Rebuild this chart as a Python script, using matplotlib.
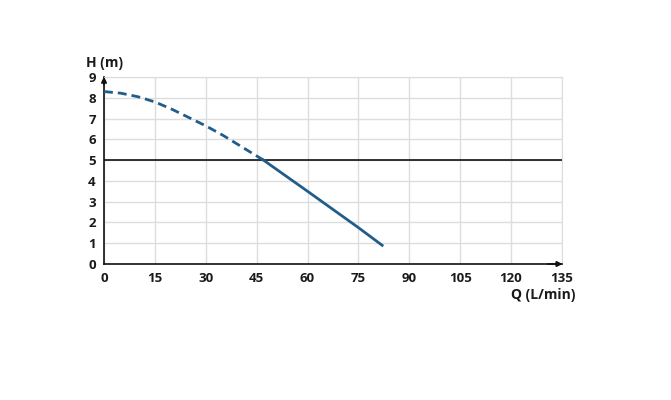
import matplotlib
matplotlib.use("Agg")
import matplotlib.pyplot as plt
import numpy as np

# Data
q_dashed = [0, 5, 10, 15, 20, 25, 30, 35, 40, 44, 47]
h_dashed = [8.3, 8.22, 8.05, 7.8, 7.45, 7.05, 6.65, 6.2, 5.7, 5.3, 5.0]
q_solid = [47, 60, 75, 82]
h_solid = [5.0, 3.5, 1.75, 0.9]
ref_head = 5
x_ticks = [0, 15, 30, 45, 60, 75, 90, 105, 120, 135]
y_ticks = [0, 1, 2, 3, 4, 5, 6, 7, 8, 9]

plt.rcParams['font.family'] = ['Open Sans', 'DejaVu Sans']
fig = plt.figure(figsize=(6.71, 4.0), dpi=100)
ax = fig.add_axes([0.155, 0.34, 0.6825, 0.4675])

color = '#225d8a'
ax.plot(q_dashed, h_dashed, color=color, lw=2, ls=(0, (3.2, 1.8)), zorder=3)
ax.plot(q_solid, h_solid, color=color, lw=2, zorder=3)
ax.axhline(ref_head, color='#111111', lw=1.2, zorder=2)

ax.set_xlim(0, 135)
ax.set_ylim(0, 9)
ax.set_xticks(x_ticks)
ax.set_yticks(y_ticks)
ax.grid(True, color='#dddddd', lw=1)
for s in ['top', 'right']:
    ax.spines[s].set_color('#dddddd')
for s in ['left', 'bottom']:
    ax.spines[s].set_color('#111111')
    ax.spines[s].set_linewidth(1.2)
ax.tick_params(length=0, labelsize=9.5, pad=6)
for lbl in ax.get_xticklabels() + ax.get_yticklabels():
    lbl.set_fontweight('bold')
    lbl.set_color('#1a1a1a')

# arrows
ax.annotate('', xy=(0, 9.15), xytext=(0, 8.5), xycoords='data',
            arrowprops=dict(arrowstyle='-|>', color='#111111', lw=1.2, mutation_scale=8),
            annotation_clip=False)
ax.annotate('', xy=(136, 0), xytext=(130, 0), xycoords='data',
            arrowprops=dict(arrowstyle='-|>', color='#111111', lw=1.2, mutation_scale=8),
            annotation_clip=False)

fig.text(0.128, 0.825, 'H (m)', fontsize=10, fontweight='bold', color='#1a1a1a',
         ha='left', va='bottom')
fig.text(0.858, 0.262, 'Q (L/min)', fontsize=10, fontweight='bold', color='#1a1a1a',
         ha='right', va='center')

fig.savefig('out.png', dpi=100)
